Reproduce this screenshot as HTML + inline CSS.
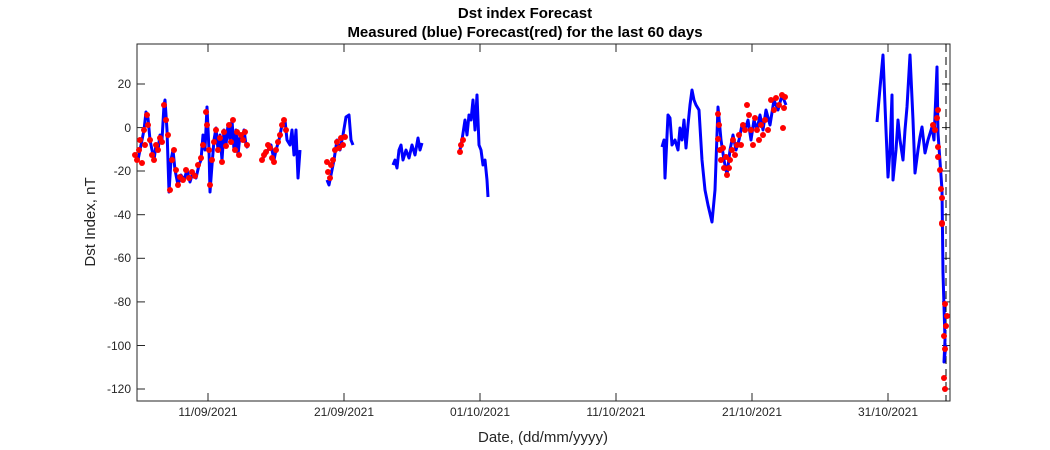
<!DOCTYPE html>
<html><head><meta charset="utf-8"><style>body{margin:0;background:#fff}svg{display:block}text{font-family:"Liberation Sans",sans-serif}</style></head><body>
<svg width="1050" height="450" viewBox="0 0 1050 450">
<rect width="1050" height="450" fill="#fff"/>
<text x="525" y="18" text-anchor="middle" font-size="15" font-weight="bold">Dst index Forecast</text>
<text x="525" y="37" text-anchor="middle" font-size="15" font-weight="bold">Measured (blue) Forecast(red) for the last 60 days</text>
<rect x="137" y="44" width="813" height="357" fill="none" stroke="#262626" stroke-width="1"/>
<g stroke="#262626" stroke-width="1">
<line x1="137" y1="84" x2="145" y2="84"/><line x1="137" y1="127.6" x2="145" y2="127.6"/><line x1="137" y1="171" x2="145" y2="171"/><line x1="137" y1="214.7" x2="145" y2="214.7"/><line x1="137" y1="258.3" x2="145" y2="258.3"/><line x1="137" y1="301.9" x2="145" y2="301.9"/><line x1="137" y1="345.5" x2="145" y2="345.5"/><line x1="137" y1="389" x2="145" y2="389"/>
<line x1="942" y1="84" x2="950" y2="84"/><line x1="942" y1="127.6" x2="950" y2="127.6"/><line x1="942" y1="171" x2="950" y2="171"/><line x1="942" y1="214.7" x2="950" y2="214.7"/><line x1="942" y1="258.3" x2="950" y2="258.3"/><line x1="942" y1="301.9" x2="950" y2="301.9"/><line x1="942" y1="345.5" x2="950" y2="345.5"/><line x1="942" y1="389" x2="950" y2="389"/>
<line x1="208" y1="401" x2="208" y2="393"/><line x1="344" y1="401" x2="344" y2="393"/><line x1="480" y1="401" x2="480" y2="393"/><line x1="616" y1="401" x2="616" y2="393"/><line x1="752" y1="401" x2="752" y2="393"/><line x1="888" y1="401" x2="888" y2="393"/>
<line x1="208" y1="44" x2="208" y2="52"/><line x1="344" y1="44" x2="344" y2="52"/><line x1="480" y1="44" x2="480" y2="52"/><line x1="616" y1="44" x2="616" y2="52"/><line x1="752" y1="44" x2="752" y2="52"/><line x1="888" y1="44" x2="888" y2="52"/>
</g>
<g font-size="12" text-anchor="end" fill="#262626">
<text x="131" y="88">20</text><text x="131" y="132">0</text><text x="131" y="175">-20</text><text x="131" y="219">-40</text><text x="131" y="262">-60</text><text x="131" y="306">-80</text><text x="131" y="350">-100</text><text x="131" y="393">-120</text>
</g>
<g font-size="12" text-anchor="middle" fill="#262626">
<text x="208" y="416">11/09/2021</text><text x="344" y="416">21/09/2021</text><text x="480" y="416">01/10/2021</text><text x="616" y="416">11/10/2021</text><text x="752" y="416">21/10/2021</text><text x="888" y="416">31/10/2021</text>
</g>
<text x="543" y="442" text-anchor="middle" font-size="15" fill="#262626">Date, (dd/mm/yyyy)</text>
<text transform="translate(95,222) rotate(-90)" text-anchor="middle" font-size="15" fill="#262626">Dst Index, nT</text>
<line x1="946" y1="44" x2="946" y2="401" stroke="#000" stroke-dasharray="8,5" stroke-width="1"/>
<g fill="none" stroke="#0000ff" stroke-width="3" stroke-linejoin="round">
<polyline points="135,155 138,160 141,145 144,130 146,112 148,118 150,140 152,150 154,160 156,145 158,150 160,135 162,140 164,105 165,100 167,130 169,192 171,160 173,150 175,170 178,185 181,175 184,180 187,170 190,182 193,172 196,178 199,165 201,160 203,135 205,150 207,107 209,150 210,192 212,165 214,140 216,128 218,150 220,135 222,160 224,130 226,145 228,125 230,140 232,120 234,150 236,130 238,155 240,135 242,140 244,130 246,145 248,148"/>
<polyline points="262,160 265,155 268,150 271,145 274,160 276,150 279,140 282,125 285,120 287,140 290,145 292,130 294,155 296,130 298,178 300,150"/>
<polyline points="327,180 329,185 331,175 334,160 337,140 340,150 343,135 346,117 349,115 351,140 353,145"/>
<polyline points="393,165 395,160 397,168 399,150 401,145 403,160 406,150 409,158 412,145 415,155 418,138 420,150 422,143"/>
<polyline points="460,150 462,140 465,120 467,135 469,115 471,120 473,100 475,130 477,95 479,145 481,150 483,165 485,160 487,180 488,197"/>
<polyline points="662,147 664,140 665,178 668,115 670,118 672,145 675,140 678,150 680,128 682,140 684,120 686,148 688,125 690,105 692,90 694,100 696,105 699,110 702,160 705,190 708,205 712,222 715,190 718,107 721,140 724,160 727,175 730,150 733,135 736,150 739,140 742,125 745,130 748,120 751,140 754,120 757,130 760,115 763,130 766,110 770,125 774,100 778,110 782,95 786,105"/>
<polyline points="877,122 880,88 883,55 886,130 888,177 890,150 892,95 893,180 896,150 898,120 900,140 903,160 905,130 907,107 910,55 913,120 915,173 918,150 920,137 922,127 925,153 928,140 932,127 934,140 937,67 938,133 942,190 943,273 945,340 944,362 946,345"/>
</g>
<g fill="#ff0000">
<circle cx="135" cy="155" r="3"/><circle cx="137" cy="160" r="3"/><circle cx="139" cy="150" r="3"/><circle cx="140" cy="140" r="3"/><circle cx="142" cy="163" r="3"/><circle cx="144" cy="130" r="3"/><circle cx="145" cy="145" r="3"/><circle cx="147" cy="115" r="3"/><circle cx="148" cy="125" r="3"/><circle cx="150" cy="140" r="3"/><circle cx="152" cy="155" r="3"/><circle cx="154" cy="160" r="3"/><circle cx="156" cy="145" r="3"/><circle cx="158" cy="150" r="3"/><circle cx="160" cy="138" r="3"/><circle cx="162" cy="142" r="3"/><circle cx="164" cy="105" r="3"/><circle cx="166" cy="120" r="3"/><circle cx="168" cy="135" r="3"/><circle cx="170" cy="190" r="3"/><circle cx="172" cy="160" r="3"/><circle cx="174" cy="150" r="3"/><circle cx="176" cy="170" r="3"/><circle cx="178" cy="185" r="3"/><circle cx="180" cy="177" r="3"/><circle cx="183" cy="180" r="3"/><circle cx="186" cy="170" r="3"/><circle cx="189" cy="178" r="3"/><circle cx="192" cy="172" r="3"/><circle cx="195" cy="176" r="3"/><circle cx="198" cy="165" r="3"/><circle cx="201" cy="158" r="3"/><circle cx="203" cy="145" r="3"/><circle cx="206" cy="112" r="3"/><circle cx="207" cy="125" r="3"/><circle cx="209" cy="150" r="3"/><circle cx="210" cy="185" r="3"/><circle cx="212" cy="160" r="3"/><circle cx="214" cy="142" r="3"/><circle cx="216" cy="130" r="3"/><circle cx="218" cy="150" r="3"/><circle cx="220" cy="138" r="3"/><circle cx="222" cy="162" r="3"/><circle cx="224" cy="132" r="3"/><circle cx="226" cy="146" r="3"/><circle cx="229" cy="125" r="3"/><circle cx="231" cy="142" r="3"/><circle cx="233" cy="120" r="3"/><circle cx="235" cy="150" r="3"/><circle cx="237" cy="132" r="3"/><circle cx="239" cy="155" r="3"/><circle cx="241" cy="135" r="3"/><circle cx="243" cy="140" r="3"/><circle cx="245" cy="132" r="3"/><circle cx="247" cy="145" r="3"/>
<circle cx="262" cy="160" r="3"/><circle cx="264" cy="155" r="3"/><circle cx="266" cy="152" r="3"/><circle cx="268" cy="145" r="3"/><circle cx="270" cy="148" r="3"/><circle cx="272" cy="158" r="3"/><circle cx="274" cy="162" r="3"/><circle cx="276" cy="150" r="3"/><circle cx="278" cy="142" r="3"/><circle cx="280" cy="135" r="3"/><circle cx="282" cy="125" r="3"/><circle cx="284" cy="120" r="3"/><circle cx="286" cy="130" r="3"/>
<circle cx="327" cy="162" r="3"/><circle cx="328" cy="172" r="3"/><circle cx="330" cy="178" r="3"/><circle cx="331" cy="165" r="3"/><circle cx="333" cy="160" r="3"/><circle cx="335" cy="150" r="3"/><circle cx="337" cy="142" r="3"/><circle cx="339" cy="148" r="3"/><circle cx="341" cy="138" r="3"/><circle cx="343" cy="145" r="3"/><circle cx="345" cy="137" r="3"/>
<circle cx="460" cy="152" r="3"/><circle cx="461" cy="145" r="3"/><circle cx="463" cy="140" r="3"/>
<circle cx="718" cy="114" r="3"/><circle cx="719" cy="125" r="3"/><circle cx="718" cy="139" r="3"/><circle cx="720" cy="150" r="3"/><circle cx="721" cy="160" r="3"/><circle cx="723" cy="148" r="3"/><circle cx="724" cy="168" r="3"/><circle cx="726" cy="157" r="3"/><circle cx="727" cy="175" r="3"/><circle cx="729" cy="168" r="3"/><circle cx="730" cy="160" r="3"/><circle cx="732" cy="150" r="3"/><circle cx="733" cy="140" r="3"/><circle cx="735" cy="155" r="3"/><circle cx="737" cy="145" r="3"/><circle cx="739" cy="135" r="3"/><circle cx="741" cy="145" r="3"/><circle cx="743" cy="125" r="3"/><circle cx="745" cy="130" r="3"/><circle cx="747" cy="105" r="3"/><circle cx="749" cy="115" r="3"/><circle cx="751" cy="130" r="3"/><circle cx="753" cy="145" r="3"/><circle cx="755" cy="118" r="3"/><circle cx="757" cy="130" r="3"/><circle cx="759" cy="140" r="3"/><circle cx="761" cy="125" r="3"/><circle cx="763" cy="135" r="3"/><circle cx="765" cy="120" r="3"/><circle cx="768" cy="130" r="3"/><circle cx="771" cy="100" r="3"/><circle cx="774" cy="110" r="3"/><circle cx="776" cy="98" r="3"/><circle cx="779" cy="105" r="3"/><circle cx="782" cy="95" r="3"/><circle cx="784" cy="108" r="3"/><circle cx="785" cy="97" r="3"/><circle cx="783" cy="128" r="3"/>
<circle cx="938" cy="110" r="3"/><circle cx="937" cy="118" r="3"/><circle cx="933" cy="125" r="3"/><circle cx="935" cy="130" r="3"/><circle cx="938" cy="147" r="3"/><circle cx="938" cy="157" r="3"/><circle cx="940" cy="170" r="3"/><circle cx="941" cy="189" r="3"/><circle cx="942" cy="198" r="3"/><circle cx="942" cy="223" r="3"/><circle cx="942" cy="224" r="3"/><circle cx="945" cy="304" r="3"/><circle cx="947" cy="316" r="3"/><circle cx="946" cy="326" r="3"/><circle cx="944" cy="336" r="3"/><circle cx="945" cy="349" r="3"/><circle cx="944" cy="378" r="3"/><circle cx="945" cy="389" r="3"/>
</g>
</svg>
</body></html>
